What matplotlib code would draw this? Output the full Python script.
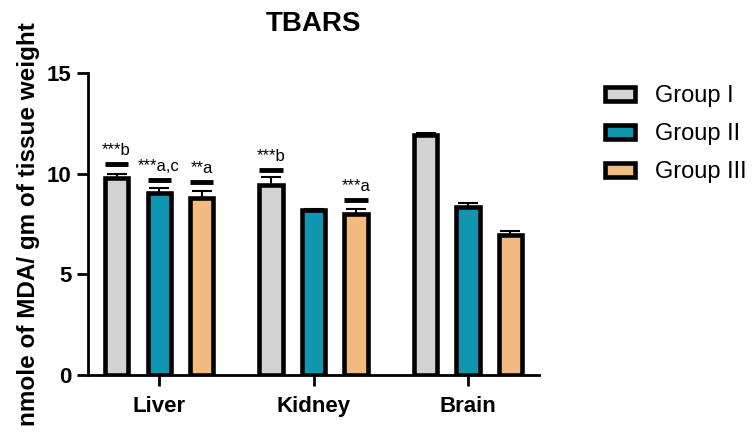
import numpy as np
import matplotlib
matplotlib.use("Agg")
import matplotlib.pyplot as plt

plt.rcParams['font.family'] = ['Liberation Sans', 'DejaVu Sans']

# --- data ---
organs = ['Liver', 'Kidney', 'Brain']
groups = ['Group I', 'Group II', 'Group III']
means = {
    'Group I':   [9.8, 9.45, 11.9],
    'Group II':  [9.05, 8.2, 8.35],
    'Group III': [8.8, 8.0, 6.95],
}
sems = {
    'Group I':   [0.2, 0.4, 0.12],
    'Group II':  [0.25, 0.05, 0.2],
    'Group III': [0.35, 0.25, 0.2],
}
# significance marks: (organ index, group index, dash height, label)
sig_organ = [0, 0, 0, 1, 1]
sig_group = [0, 1, 2, 0, 2]
sig_level = [10.5, 9.7, 9.6, 10.2, 8.7]
sig_text = ['***b', '***a,c', '**a', '***b', '***a']

colors = ['#D3D3D3', '#1196B2', '#F2BA80']
BAR_W = 0.15
OFFSET = 0.275

fig = plt.figure(figsize=(7.55, 4.32), dpi=100)
ax = fig.add_axes([0.1166, 0.132, 0.5974, 0.699])

x = np.arange(len(organs))
for i, g in enumerate(groups):
    xs = x + (i - 1) * OFFSET
    ax.bar(xs, means[g], width=BAR_W, color=colors[i], edgecolor='black',
           linewidth=3.3, label=g, zorder=2)
    ax.errorbar(xs, means[g], yerr=[np.zeros(len(organs)), sems[g]], fmt='none',
                ecolor='black', elinewidth=1.5, capsize=7, capthick=1.5, zorder=1)

for o, gi, lvl, txt in zip(sig_organ, sig_group, sig_level, sig_text):
    xc = x[o] + (gi - 1) * OFFSET
    ax.plot([xc - BAR_W / 2, xc + BAR_W / 2], [lvl, lvl], color='black', lw=3.5,
            solid_capstyle='butt')
    ax.text(xc, lvl + 0.3, txt, ha='center', va='bottom', fontsize=12)

ax.set_xlim(-0.46, 2.46)
ax.set_ylim(0, 15)
ax.set_yticks([0, 5, 10, 15])
ax.set_xticks(x)
ax.set_xticklabels(organs, fontsize=16, fontweight='bold')
for lab in ax.get_yticklabels():
    lab.set_fontsize(16)
    lab.set_fontweight('bold')
ax.tick_params(axis='both', width=2, length=8, direction='out', pad=4)
ax.tick_params(axis='x', pad=7)
for side in ['top', 'right']:
    ax.spines[side].set_visible(False)
for side in ['left', 'bottom']:
    ax.spines[side].set_linewidth(2)

ax.set_title('TBARS', fontsize=20, fontweight='bold', pad=30)
ax.set_ylabel('nmole of MDA/ gm of tissue weight', fontsize=17.5, fontweight='bold',
              labelpad=5)

ax.legend(loc='upper left', bbox_to_anchor=(1.10, 1.03), frameon=False,
          fontsize=17, handlelength=1.27, handleheight=0.58, labelspacing=0.68,
          handletextpad=0.85)

fig.savefig('out.png', dpi=100)
